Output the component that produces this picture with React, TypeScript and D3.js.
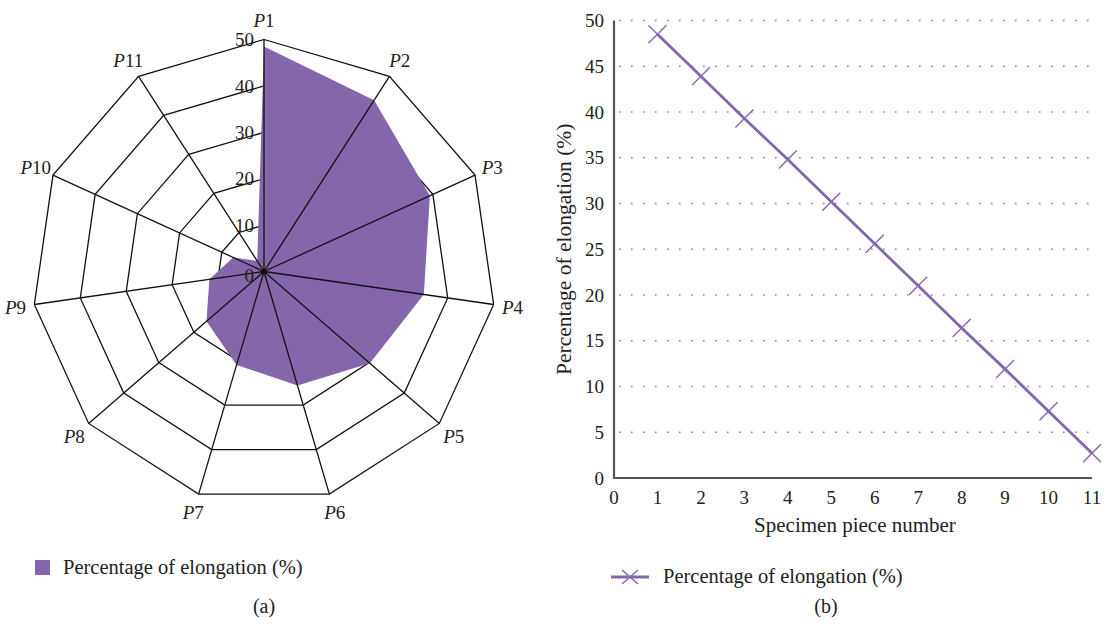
import React from "react";
import * as d3 from "d3";

const categories = ["P1", "P2", "P3", "P4", "P5", "P6", "P7", "P8", "P9", "P10", "P11"];
const pieceNumbers = [1, 2, 3, 4, 5, 6, 7, 8, 9, 10, 11];
const elongation = [48.5, 43.9, 39.3, 34.8, 30.2, 25.6, 21.0, 16.4, 11.9, 7.3, 2.7];
const radarTicks = [0, 10, 20, 30, 40, 50];
const yTicks = [0, 5, 10, 15, 20, 25, 30, 35, 40, 45, 50];
const xTicks = [0, 1, 2, 3, 4, 5, 6, 7, 8, 9, 10, 11];
const seriesName = "Percentage of elongation (%)";

const FONT = "'Liberation Serif', 'DejaVu Serif', serif";
const PURPLE = "#8466aa";
const LINE = "#8566b0";

export default function App() {
  // Radar
  const cx = 264, cy = 271.5;
  const r = d3.scaleLinear().domain([0, 50]).range([0, 232]);
  const n = categories.length;
  const ang = (i: number) => (i * 2 * Math.PI) / n;
  const pt = (i: number, v: number): [number, number] => [
    cx + r(v) * Math.sin(ang(i)),
    cy - r(v) * Math.cos(ang(i)),
  ];
  const ringPath = (v: number) =>
    d3.line()(categories.map((_, i) => pt(i, v)).concat([pt(0, v)])) as string;
  const areaPath =
    (d3.line()(elongation.map((v, i) => pt(i, v))) as string) + "Z";

  // Line chart
  const x = d3.scaleLinear().domain([0, 11]).range([614, 1092]);
  const y = d3.scaleLinear().domain([0, 50]).range([478, 20.5]);
  const linePath = d3
    .line<number>()
    .x((_, i) => x(pieceNumbers[i]))
    .y((d) => y(d))(elongation) as string;
  const m = 9;

  return (
    <svg
      width={1105}
      height={628}
      style={{ position: "absolute", left: 0, top: 0, background: "#fff" }}
      fontFamily={FONT}
    >
      <rect width={1105} height={628} fill="#fff" />
      {/* Radar */}
      {radarTicks.slice(1).map((v) => (
        <path key={v} d={ringPath(v)} fill="none" stroke="#111" strokeWidth={1.3} />
      ))}
      <path d={areaPath} fill={PURPLE} stroke="none" />
      {categories.map((c, i) => {
        const [x2, y2] = pt(i, 50);
        return <line key={c} x1={cx} y1={cy} x2={x2} y2={y2} stroke="#111" strokeWidth={1.3} />;
      })}
      <circle cx={cx} cy={cy} r={2.5} fill="#111" />
      {radarTicks.map((v) => (
        <text
          key={v}
          x={cx - 10}
          y={cy - r(v) + (v === 0 ? 4 : 0)}
          dy="0.35em"
          textAnchor="end"
          fontSize={19}
          fill="#222"
        >
          {v}
        </text>
      ))}
      {categories.map((c, i) => {
        const [lx, ly] = pt(i, 50 * (251 / 232));
        return (
          <text key={c} x={lx} y={ly} dy="0.35em" textAnchor="middle" fontSize={19} fill="#222">
            <tspan fontStyle="italic">P</tspan>
            {c.slice(1)}
          </text>
        );
      })}
      {/* Legend a */}
      <rect x={35} y={560} width={15} height={15} fill={PURPLE} />
      <text x={63} y={567} dy="0.35em" fontSize={20.5} fill="#222">
        {seriesName}
      </text>
      <text x={264} y={606} dy="0.35em" textAnchor="middle" fontSize={20} fill="#222">
        (a)
      </text>

      {/* Line chart */}
      {yTicks.slice(1).map((v) => (
        <line
          key={v}
          x1={x(0) + 5}
          x2={x(11) + 4}
          y1={y(v)}
          y2={y(v)}
          stroke="#888"
          strokeWidth={1.6}
          strokeDasharray="1.6,10.4"
        />
      ))}
      <line x1={x(0)} x2={x(0)} y1={y(50)} y2={y(0) + 1} stroke="#555" strokeWidth={2.2} />
      <line x1={x(0) - 1} x2={x(11)} y1={y(0)} y2={y(0)} stroke="#555" strokeWidth={2.2} />
      {yTicks.map((v) => (
        <text key={v} x={604} y={y(v)} dy="0.35em" textAnchor="end" fontSize={19} fill="#222">
          {v}
        </text>
      ))}
      {xTicks.map((v) => (
        <text key={v} x={x(v)} y={497} dy="0.35em" textAnchor="middle" fontSize={19} fill="#222">
          {v}
        </text>
      ))}
      <text x={855} y={525} dy="0.35em" textAnchor="middle" fontSize={21} fill="#222">
        Specimen piece number
      </text>
      <text
        transform={`translate(563,${(y(0) + y(50)) / 2}) rotate(-90)`}
        dy="0.35em"
        textAnchor="middle"
        fontSize={21.5}
        fill="#222"
      >
        {seriesName}
      </text>
      <path d={linePath} fill="none" stroke={LINE} strokeWidth={2.8} />
      {elongation.map((v, i) => {
        const px = x(pieceNumbers[i]);
        const py = y(v);
        return (
          <g key={i} stroke={LINE} strokeWidth={1.4}>
            <line x1={px - m} y1={py - m} x2={px + m} y2={py + m} />
            <line x1={px - m} y1={py + m} x2={px + m} y2={py - m} />
          </g>
        );
      })}
      {/* Legend b */}
      <line x1={611} x2={649} y1={577} y2={577} stroke={LINE} strokeWidth={2.8} />
      <g stroke={LINE} strokeWidth={1.4}>
        <line x1={630 - 8} y1={577 - 7} x2={630 + 8} y2={577 + 7} />
        <line x1={630 - 8} y1={577 + 7} x2={630 + 8} y2={577 - 7} />
      </g>
      <text x={663} y={576} dy="0.35em" fontSize={20.5} fill="#222">
        {seriesName}
      </text>
      <text x={826} y={606} dy="0.35em" textAnchor="middle" fontSize={20} fill="#222">
        (b)
      </text>
    </svg>
  );
}
